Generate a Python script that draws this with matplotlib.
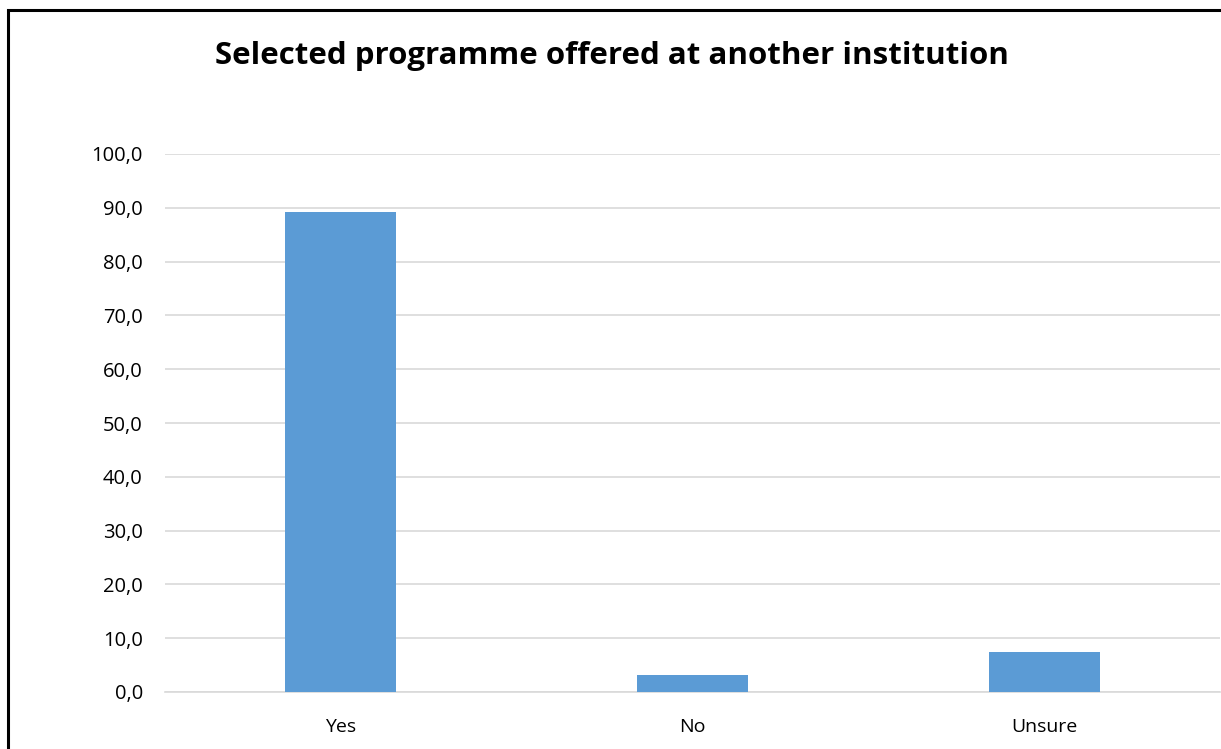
import matplotlib.pyplot as plt
from matplotlib.patches import Rectangle

categories = ["Yes", "No", "Unsure"]
values = [89.3, 3.1, 7.4]
yticks = [0, 10, 20, 30, 40, 50, 60, 70, 80, 90, 100]

plt.rcParams["font.family"] = ["Open Sans", "DejaVu Sans"]

fig = plt.figure(figsize=(12.21, 7.49), dpi=100)
ax = fig.add_axes([165 / 1221, 1 - 692 / 749, 1055 / 1221, (692 - 154) / 749])

x = range(len(categories))
ax.bar(x, values, width=0.316, color="#5b9bd5", zorder=3)

ax.set_xlim(-0.5, len(categories) - 0.5)
ax.set_ylim(0, 100)
ax.set_yticks(yticks)
ax.set_yticklabels([f"{v:.1f}".replace(".", ",") for v in yticks], fontsize=14.5, color="#000000")
ax.set_xticks(list(x))
ax.set_xticklabels(categories, fontsize=14)
ax.tick_params(axis="both", length=0)
ax.tick_params(axis="y", pad=16)
ax.tick_params(axis="x", pad=19)
ax.grid(axis="y", color="#d9d9d9", linewidth=1.2, zorder=0)
for side in ["top", "right", "left"]:
    ax.spines[side].set_visible(False)
ax.spines["bottom"].set_color("#d9d9d9")
ax.spines["bottom"].set_linewidth(1.2)

fig.text(612 / 1221, 1 - 56 / 749, "Selected programme offered at another institution",
         ha="center", va="center", fontsize=22.5, fontweight="bold")

# outer chart frame
fig.patches.append(Rectangle((8 / 1221, -0.05), 1.1, 1 - 10 / 749 + 0.05,
                             transform=fig.transFigure, fill=False,
                             edgecolor="black", linewidth=2.2))

fig.savefig("out.png", dpi=100)
